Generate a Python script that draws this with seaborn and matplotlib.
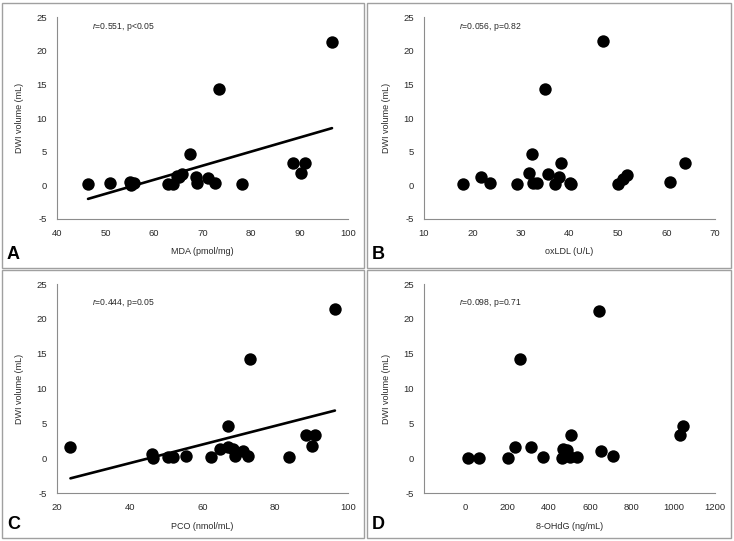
import numpy as np
import pandas as pd
import matplotlib
matplotlib.use("Agg")
import matplotlib.pyplot as plt
from matplotlib.patches import Rectangle
import seaborn as sns

sns.set_theme(style="white")
plt.rcParams['font.family'] = ['Liberation Sans', 'DejaVu Sans']
plt.rcParams['axes.unicode_minus'] = False
plt.rcParams['mathtext.fontset'] = 'custom'
plt.rcParams['mathtext.it'] = 'Liberation Sans:italic'
plt.rcParams['mathtext.rm'] = 'Liberation Sans'

# ---- data ----
mda_x = [46.4, 50.9, 55.0, 55.8, 55.3, 62.8, 63.9, 64.8, 65.7, 65.2, 67.4, 68.7, 68.9, 71.1, 72.6, 73.3, 78.1, 88.7, 90.4, 91.1, 96.7]
mda_y = [0.15, 0.3, 0.5, 0.3, 0.1, 0.15, 0.15, 1.4, 1.7, 1.2, 4.7, 1.2, 0.3, 1.1, 0.3, 14.3, 0.15, 3.4, 1.8, 3.4, 21.3]

oxldl_x = [18.0, 21.7, 23.7, 29.1, 31.7, 32.2, 32.5, 33.3, 34.9, 35.6, 37.1, 37.8, 38.2, 40.2, 40.4, 47.0, 50.1, 51.0, 51.9, 60.8, 63.9]
oxldl_y = [0.15, 1.3, 0.3, 0.15, 1.8, 4.7, 0.3, 0.3, 14.3, 1.7, 0.15, 1.3, 3.4, 0.4, 0.15, 21.5, 0.15, 1.0, 1.5, 0.5, 3.4]

pco_x = [23.7, 46.0, 46.3, 50.6, 52.0, 55.6, 62.4, 64.7, 66.9, 67.1, 68.5, 68.8, 71.0, 72.4, 73.1, 83.7, 88.4, 90.1, 90.8, 96.4]
pco_y = [1.7, 0.6, 0.1, 0.15, 0.15, 0.4, 0.15, 1.3, 1.6, 4.7, 1.3, 0.4, 1.1, 0.3, 14.3, 0.15, 3.4, 1.8, 3.4, 21.4]

ohdg_x = [10, 66, 206, 236, 260, 315, 373, 462, 470, 488, 504, 509, 538, 642, 651, 707, 1033, 1045]
ohdg_y = [0.05, 0.05, 0.05, 1.7, 14.2, 1.6, 0.25, 0.05, 1.3, 1.15, 0.15, 3.3, 0.25, 21.2, 1.0, 0.3, 3.3, 4.6]

x_labels = ["MDA (pmol/mg)", "oxLDL (U/L)", "PCO (nmol/mL)", "8-OHdG (ng/mL)"]
y_label = "DWI volume (mL)"
stats = [("0.551", "p<0.05"), ("0.056", "p=0.82"), ("0.444", "p=0.05"), ("0.098", "p=0.71")]
letters = ["A", "B", "C", "D"]
x_ticks = [[40, 50, 60, 70, 80, 90, 100], [10, 20, 30, 40, 50, 60, 70],
           [20, 40, 60, 80, 100], [0, 200, 400, 600, 800, 1000, 1200]]
x_lims = [(40, 100), (10, 70), (20, 100), (-200, 1200)]
y_ticks = [-5, 0, 5, 10, 15, 20, 25]
show_fit = [True, False, True, False]

datasets = [(mda_x, mda_y), (oxldl_x, oxldl_y), (pco_x, pco_y), (ohdg_x, ohdg_y)]

W, H = 734, 541
fig = plt.figure(figsize=(W / 100, H / 100), dpi=100)

# axes rectangles in pixel coordinates (left, right, top, bottom)
axes_px = [(57, 348, 17.3, 219), (424, 715, 17.3, 219),
           (57, 348, 284, 493.3), (424, 715, 284, 493.3)]
panels_px = [(2, 364, 3, 268), (367, 731, 3, 268), (2, 364, 270, 538), (367, 731, 270, 538)]
text_y = [0.95, 0.95, 0.91, 0.91]

gray = "#8c8c8c"
txt = "#2a2a2a"
for i, (xs, ys) in enumerate(datasets):
    l, r, t, b = axes_px[i]
    ax = fig.add_axes([l / W, (H - b) / H, (r - l) / W, (b - t) / H])
    df = pd.DataFrame({"x": xs, "y": ys})
    if show_fit[i]:
        sns.regplot(data=df, x="x", y="y", ax=ax, scatter=False, ci=None,
                    truncate=True, line_kws=dict(color="black", lw=1.9))
    sns.scatterplot(data=df, x="x", y="y", ax=ax, color="black", s=80,
                    edgecolor="black", linewidth=0, zorder=3)
    ax.set_xlim(*x_lims[i])
    ax.set_ylim(-5, 25)
    ax.set_xticks(x_ticks[i])
    ax.set_yticks(y_ticks)
    ax.tick_params(direction="in", length=3, width=0.8, color=gray,
                   labelsize=6.8, labelcolor=txt, pad=7)
    for s in ["top", "right"]:
        ax.spines[s].set_visible(False)
    for s in ["left", "bottom"]:
        ax.spines[s].set_color(gray)
        ax.spines[s].set_linewidth(0.8)
    ax.set_xlabel(x_labels[i], fontsize=6.5, color=txt, labelpad=7)
    ax.set_ylabel(y_label, fontsize=6.5, color=txt, labelpad=9)
    ax.set_facecolor("white")
    rv, pv = stats[i]
    ax.text(0.12, text_y[i], r"$r$" + "=" + rv + ", " + pv, transform=ax.transAxes,
            fontsize=6.2, color=txt, va="center", ha="left")

    pl, pr, pt, pb = panels_px[i]
    fig.patches.append(Rectangle((pl / W, (H - pb) / H), (pr - pl) / W, (pb - pt) / H,
                                 transform=fig.transFigure, fill=False,
                                 edgecolor="#a0a0a0", lw=1.0))
    fig.text((pl + 5) / W, (H - pb + 5) / H, letters[i], fontsize=13, fontweight="bold",
             ha="left", va="bottom", color="black")

fig.savefig("out.png", dpi=100, facecolor="white")
